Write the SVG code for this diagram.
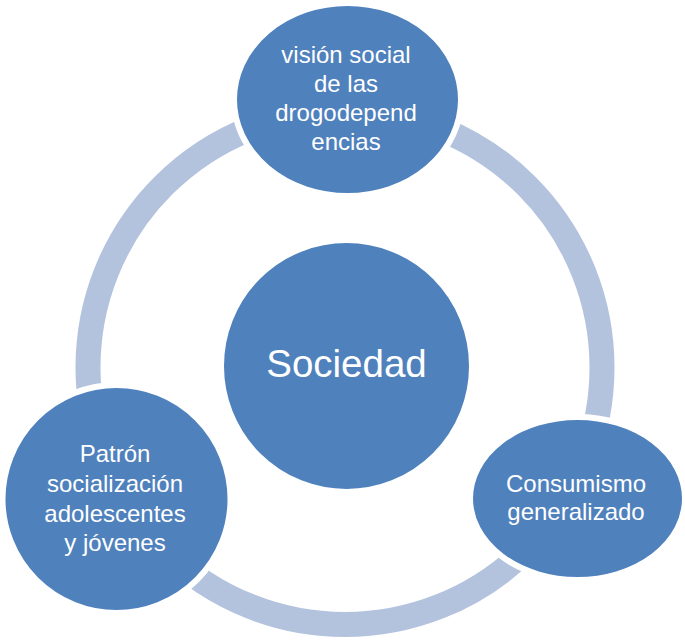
<svg xmlns="http://www.w3.org/2000/svg" width="685" height="642" viewBox="0 0 685 642">
  <style>
    .node { fill: #4F81BD; stroke: #FFFFFF; stroke-width: 6; }
    .ring { fill: none; stroke: #B3C3DE; stroke-width: 25; }
    .lbl { fill: #FFFFFF; font-family: "Liberation Sans", Arial, sans-serif; font-size: 24px; text-anchor: middle; }
    .big { font-size: 38.5px; }
  </style>
  <rect x="0" y="0" width="685" height="642" fill="#FFFFFF"/>
  <g id="connectors">
    <circle class="ring" cx="345" cy="367.5" r="257"/>
  </g>
  <g id="node-top">
    <ellipse class="node" cx="347.5" cy="99.5" rx="113.5" ry="96.5"/>
    <text class="lbl" x="346" y="63">visión social</text>
    <text class="lbl" x="346" y="92">de las</text>
    <text class="lbl" x="346" y="121">drogodepend</text>
    <text class="lbl" x="346" y="150">encias</text>
  </g>
  <g id="node-right">
    <ellipse class="node" cx="577.5" cy="498.5" rx="107.5" ry="81.5"/>
    <text class="lbl" x="576" y="492">Consumismo</text>
    <text class="lbl" x="576" y="520">generalizado</text>
  </g>
  <g id="node-left">
    <ellipse class="node" cx="116.5" cy="499" rx="114" ry="114"/>
    <text class="lbl" x="115" y="462">Patrón</text>
    <text class="lbl" x="115" y="492">socialización</text>
    <text class="lbl" x="115" y="522">adolescentes</text>
    <text class="lbl" x="115" y="551">y jóvenes</text>
  </g>
  <g id="node-center">
    <ellipse class="node" cx="346.5" cy="366" rx="125.5" ry="126"/>
    <text class="lbl big" x="346.5" y="377">Sociedad</text>
  </g>
</svg>
